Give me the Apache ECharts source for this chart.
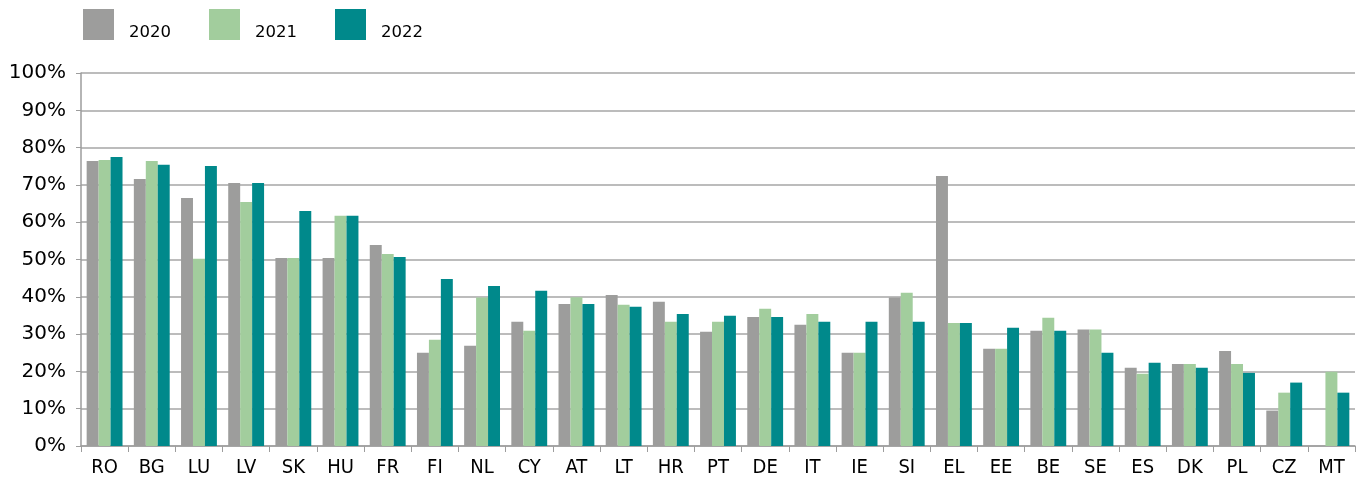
<!DOCTYPE html>
<html>
<head>
<meta charset="utf-8">
<script src="https://cdn.jsdelivr.net/npm/echarts@6/dist/echarts.min.js"></script>
<style>
  html, body { margin: 0; padding: 0; background: #ffffff; }
  #chart { width: 1361px; height: 480px; }
</style>
</head>
<body>
<div id="chart"></div>
<script>
// Country codes along the category axis
const countries = ['RO', 'BG', 'LU', 'LV', 'SK', 'HU', 'FR', 'FI', 'NL', 'CY', 'AT', 'LT', 'HR', 'PT',
  'DE', 'IT', 'IE', 'SI', 'EL', 'EE', 'BE', 'SE', 'ES', 'DK', 'PL', 'CZ', 'MT'];

// Shares in percent per year
const values2020 = [76.4, 71.6, 66.5, 70.5, 50.4, 50.4, 53.9, 25.0, 26.9, 33.3, 38.1, 40.5, 38.7, 30.6,
  34.6, 32.5, 25.0, 39.8, 72.4, 26.1, 30.9, 31.2, 21.0, 22.0, 25.5, 9.5, null];
const values2021 = [76.7, 76.4, 50.2, 65.4, 50.4, 61.7, 51.5, 28.5, 39.8, 30.9, 39.9, 37.9, 33.3, 33.3,
  36.8, 35.4, 25.0, 41.1, 33.0, 26.1, 34.4, 31.2, 19.4, 22.0, 22.0, 14.3, 19.9];
const values2022 = [77.5, 75.4, 75.1, 70.5, 63.0, 61.7, 50.7, 44.8, 42.9, 41.6, 38.1, 37.3, 35.4, 34.9,
  34.6, 33.3, 33.3, 33.3, 33.0, 31.7, 30.9, 25.0, 22.3, 21.0, 19.6, 17.0, 14.3];

const seriesNames = ['2020', '2021', '2022'];
const seriesColors = ['#9d9d9c', '#a2cd9d', '#00898b'];

const chart = echarts.init(document.getElementById('chart'), null, { renderer: 'canvas' });

const fontFamily = '"DejaVu Sans", sans-serif';

chart.setOption({
  animation: false,
  backgroundColor: '#ffffff',
  legend: {
    left: 83,
    top: 9,
    padding: 0,
    itemWidth: 31,
    itemHeight: 31,
    itemGap: 38,
    icon: 'rect',
    data: seriesNames,
    formatter: '{t|{name}}',
    textStyle: {
      rich: {
        t: {
          fontFamily: fontFamily,
          fontSize: 16.5,
          color: '#000000',
          padding: [16, 0, 0, 10]
        }
      }
    }
  },
  grid: {
    left: 81,
    right: 6,
    top: 73,
    bottom: 34,
    containLabel: false
  },
  xAxis: {
    type: 'category',
    data: countries,
    axisLine: { show: true, lineStyle: { color: '#9d9d9d', width: 1.5 } },
    axisTick: { show: true, alignWithLabel: false, length: 6, lineStyle: { color: '#9d9d9d', width: 1 } },
    axisLabel: {
      fontFamily: '"DejaVu Sans Condensed", "DejaVu Sans", sans-serif',
      fontSize: 20,
      color: '#000000',
      margin: 12,
      interval: 0
    }
  },
  yAxis: {
    type: 'value',
    min: 0,
    max: 100,
    interval: 10,
    axisLine: { show: true, lineStyle: { color: '#9d9d9d', width: 1.5 } },
    axisTick: { show: true, inside: false, length: 5, lineStyle: { color: '#9d9d9d', width: 1 } },
    splitLine: { show: true, lineStyle: { color: '#a6a6a6', width: 1.6 } },
    axisLabel: {
      fontFamily: fontFamily,
      fontSize: 20,
      color: '#000000',
      margin: 15,
      formatter: '{value}%'
    }
  },
  series: seriesNames.map((name, i) => ({
    name: name,
    type: 'bar',
    data: [values2020, values2021, values2022][i],
    itemStyle: { color: seriesColors[i] },
    barGap: '0%',
    barCategoryGap: '24%'
  }))
});
</script>
</body>
</html>
